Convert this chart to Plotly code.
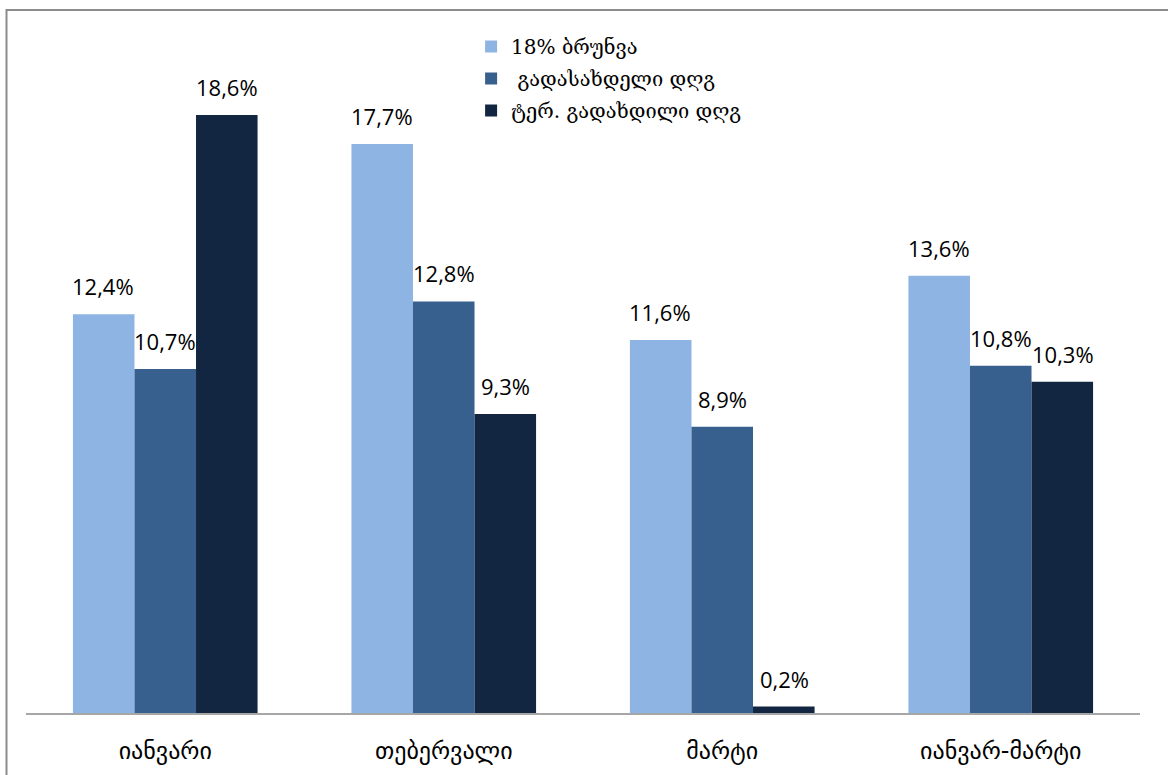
import plotly.graph_objects as go

# Categories (months) and series values, %
months = ["იანვარი", "თებერვალი", "მარტი", "იანვარ-მარტი"]
series_names = ["18% ბრუნვა", " გადასახდელი დღგ", "ტერ. გადახდილი დღგ"]
turnover_18 = [12.4, 17.7, 11.6, 13.6]
vat_payable = [10.7, 12.8, 8.9, 10.8]
vat_paid = [18.6, 9.3, 0.2, 10.3]
series_values = [turnover_18, vat_payable, vat_paid]
colors = ["#8EB4E3", "#37608F", "#122641"]

fig = go.Figure()
for k, (name, vals, col) in enumerate(zip(series_names, series_values, colors)):
    fig.add_trace(go.Bar(
        x=months, y=vals, name=name, legendgroup=f"g{k}",
        marker=dict(color=col, line=dict(width=0)),
    ))

# Value labels above each bar
n = len(series_values)
for i, vals in enumerate(series_values):
    for j, v in enumerate(vals):
        fig.add_annotation(
            x=months[j], y=v, xref="x", yref="y",
            text=f"{v:.1f}%".replace(".", ","),
            showarrow=False, yanchor="bottom", yshift=11,
            xshift=(i - (n - 1) / 2) * 62,
            font=dict(family="Open Sans, Liberation Sans, sans-serif", size=22, color="#000"),
        )

# Outer frame
fig.add_shape(type="rect", xref="paper", yref="paper",
              x0=-0.0175, x1=1.03, y0=-0.11, y1=1.0933,
              line=dict(color="#8C8C8C", width=2), fillcolor="rgba(0,0,0,0)", layer="below")

fig.update_layout(
    width=1168, height=775,
    margin=dict(l=25.5, r=27.5, t=70, b=62, autoexpand=False),
    paper_bgcolor="white", plot_bgcolor="white",
    barmode="group", bargap=0.337, bargroupgap=0,
    showlegend=True,
    legend=dict(
        x=(471 - 25.5) / 1115, y=(713 - 27) / 643, xanchor="left", yanchor="top",
        font=dict(family="DejaVu Serif, serif", size=20, color="#000"),
        bgcolor="rgba(0,0,0,0)", traceorder="grouped", tracegroupgap=3, itemwidth=30,
    ),
    xaxis=dict(
        showline=True, linecolor="#A6A6A6", linewidth=2,
        ticks="outside", ticklen=15, tickcolor="rgba(0,0,0,0)",
        tickfont=dict(family="DejaVu Sans, sans-serif", size=24, color="#000"),
        tickangle=0, showgrid=False,
    ),
    yaxis=dict(range=[0, 20], visible=False, showgrid=False, zeroline=False),
)

fig.write_html("out.html")
